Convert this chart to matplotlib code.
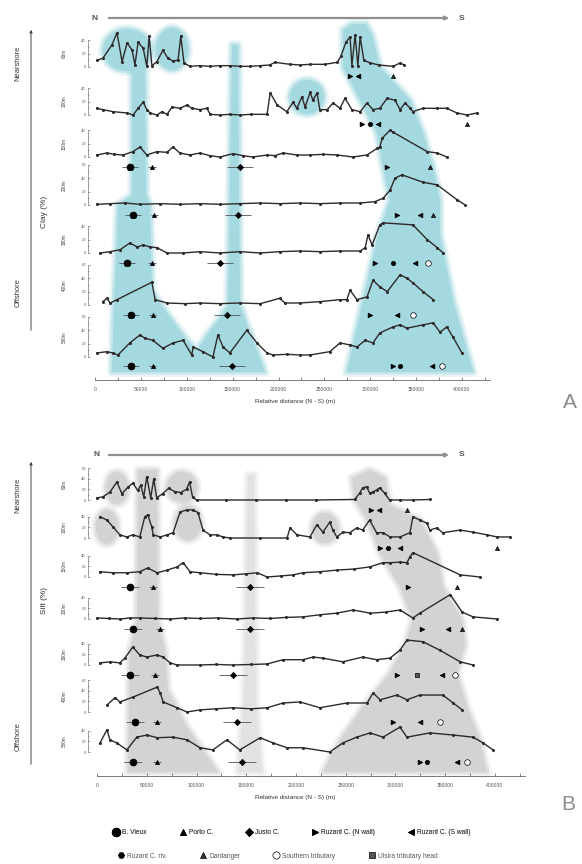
import matplotlib
matplotlib.use('Agg')
import matplotlib.pyplot as plt
from matplotlib.patches import Polygon, Ellipse
from matplotlib.lines import Line2D

plt.rcParams['font.family'] = ['Liberation Sans', 'DejaVu Sans']

# ---------------- data ----------------
DEPTHS = ['60m', '100m', '150m', '200m', '300m', '400m', '500m']
XTICKS = [0, 50000, 100000, 150000, 200000, 250000, 300000, 350000, 400000]
XTICKLABELS = ['0', '50000', '100000', '150000', '200000', '250000', '300000', '350000', '400000']
XLABEL = 'Relative distance (N - S) (m)'

# Panel A : clay (%)  (distance m, value %)
A60 = [(2000, 10), (8500, 13), (18500, 33), (24000, 51), (29500, 8), (35000, 36), (40500, 25), (43500, 3),
       (47000, 37), (52500, 28), (56500, 1), (59000, 46), (62000, 2), (67500, 8), (74000, 25), (79500, 13),
       (85000, 9), (90500, 10), (93500, 46), (97000, 6), (103500, 1), (114000, 2), (125500, 1), (136000, 2),
       (147000, 2), (158000, 1), (169000, 1), (180000, 2), (190500, 3), (196000, 7), (212500, 4), (223000, 3),
       (234500, 4), (250500, 4), (264000, 7), (268000, 16), (273500, 37), (278000, 45), (280000, 2),
       (283500, 48), (286500, 2), (289000, 45), (293000, 10), (300000, 6), (309500, 3), (325000, 1),
       (332500, 6), (337000, 3)]
A100 = [(2000, 10), (8500, 8), (19500, 5), (35000, 3), (41500, 0), (47000, 10), (52500, 19), (56500, 8),
        (60000, 3), (67500, 0), (73000, 5), (78500, 1), (84000, 12), (92500, 10), (100500, 15), (105500, 10),
        (114500, 8), (122000, 10), (125500, 1), (136000, 0), (147000, 1), (158000, 0), (170000, 1),
        (187500, 1), (191000, 33), (198500, 15), (209000, 5), (216000, 19), (220000, 10), (225500, 27),
        (229000, 12), (234500, 34), (237500, 22), (242000, 33), (245000, 8), (253000, 8), (259500, 18),
        (267000, 10), (272500, 25), (280000, 8), (289000, 5), (296500, 18), (303000, 8), (310500, 10),
        (318500, 25), (327000, 22), (332500, 8), (338000, 18), (343500, 10), (346500, 5), (357500, 10),
        (373000, 10), (383500, 10), (394500, 3), (405500, 0), (416500, 3)]
A150 = [(2000, 3), (13000, 6), (21000, 4), (30500, 3), (41500, 8), (49000, 15), (56500, 3), (67500, 8),
        (78500, 7), (85000, 15), (92500, 6), (103500, 3), (114500, 6), (125000, 2), (136000, 0), (150500, 5),
        (161000, 2), (172000, 0), (187500, 3), (196000, 2), (205000, 6), (220000, 3), (234500, 3),
        (249000, 4), (264000, 3), (281000, 0), (296500, 3), (307500, 13), (310500, 15), (313000, 28),
        (321500, 40), (325000, 37), (362000, 8), (373000, 6), (383500, 0)]
A200 = [(2000, 1), (16500, 2), (32500, 3), (49000, 1), (71000, 2), (92500, 1), (114500, 2), (136000, 1),
        (158000, 2), (180000, 3), (201500, 2), (223500, 3), (245000, 2), (267000, 3), (289000, 3),
        (305000, 5), (314000, 10), (321500, 22), (327000, 40), (334500, 45), (357500, 34), (373000, 30),
        (394500, 8), (403500, 0)]
A300 = [(5500, 0), (16500, 2), (27500, 5), (38000, 15), (46000, 9), (52500, 12), (60000, 9), (67500, 8),
        (78500, 0), (96000, 0), (114500, 2), (136000, 0), (158000, 2), (180000, 0), (201500, 2), (223500, 3),
        (245000, 2), (267000, 3), (289000, 3), (294500, 8), (297500, 27), (302000, 12), (310500, 42),
        (314000, 45), (346500, 42), (362000, 20), (373000, 8), (379500, 0)]
A400 = [(8500, 5), (13000, 10), (16500, 3), (24000, 8), (62000, 34), (65500, 8), (78500, 3), (98000, 2),
        (114500, 3), (136000, 2), (158000, 3), (180000, 2), (201500, 10), (207000, 3), (223500, 3),
        (245000, 5), (267000, 8), (274500, 8), (278000, 22), (285500, 8), (296500, 12), (303000, 37),
        (310500, 27), (318500, 20), (332500, 45), (340000, 40), (346500, 33), (357500, 20), (368500, 8)]
A500 = [(2000, 6), (13000, 8), (19500, 6), (25000, 3), (38000, 21), (49000, 33), (54500, 28), (63000, 25),
        (74000, 13), (85000, 21), (96000, 25), (105500, 3), (107000, 15), (117500, 8), (128500, 0),
        (134000, 33), (139500, 15), (147000, 6), (165500, 40), (176500, 21), (187500, 6), (194000, 3),
        (209000, 4), (223500, 3), (234500, 3), (256000, 8), (267000, 21), (278000, 18), (285500, 15),
        (294500, 25), (303000, 21), (310500, 36), (325000, 45), (332500, 48), (340000, 43), (357500, 48),
        (368500, 51), (376000, 37), (383500, 45), (390000, 30), (400000, 6)]

# Panel B : silt (%)
B60 = [(0, 4), (6000, 6), (13000, 15), (20000, 34), (25000, 12), (31000, 24), (36000, 32), (41000, 18),
       (44000, 28), (47000, 6), (50000, 44), (54000, 4), (57000, 40), (60000, 4), (66000, 12), (72000, 22),
       (78000, 16), (84000, 14), (90000, 20), (93000, 34), (96000, 6), (100000, 0), (130000, 0),
       (160000, 0), (190000, 0), (220000, 0), (259000, 1), (264000, 13), (267000, 23), (271000, 25),
       (274000, 13), (277000, 15), (281000, 19), (284000, 23), (289000, 13), (294000, 0), (304500, 0),
       (317500, 0), (334500, 1)]
B100 = [(3000, 40), (10000, 34), (16000, 21), (23000, 6), (30000, 2), (36000, 6), (43000, 2), (48000, 40),
        (51000, 44), (55000, 21), (56500, 6), (63500, 2), (70500, 6), (76500, 10), (83500, 49), (90500, 53),
        (96500, 53), (101500, 48), (106500, 15), (113500, 6), (120500, 6), (126500, 2), (133500, 0),
        (164000, 0), (191000, 0), (194000, 19), (201000, 6), (214000, 2), (221000, 25), (227000, 11),
        (234000, 30), (237000, 15), (241000, 2), (247000, 11), (254000, 10), (261000, 19), (267000, 15),
        (274000, 34), (281000, 10), (287500, 10), (294500, 2), (304500, 2), (314500, 10), (317500, 40),
        (324500, 34), (331500, 28), (334500, 15), (341500, 19), (347500, 10), (365000, 15), (378000, 11),
        (392000, 6), (402000, 2), (415000, 2)]
B150 = [(3000, 10), (16000, 8), (30000, 8), (43000, 10), (51000, 17), (60500, 8), (70500, 13), (80500, 19),
        (86500, 27), (93500, 10), (103500, 8), (120000, 5), (136500, 4), (150000, 6), (161000, 8),
        (171000, 0), (185000, 2), (197000, 4), (207000, 8), (224000, 10), (241000, 13), (258000, 15),
        (274000, 19), (287500, 27), (294500, 27), (304500, 28), (311500, 27), (314500, 38), (317500, 46),
        (365000, 4), (385000, 0)]
B200 = [(0, 2), (12000, 1), (23000, 0), (33000, 2), (43000, 2), (58000, 1), (73500, 0), (88000, 2),
        (103500, 1), (122000, 2), (140500, 0), (157000, 2), (174000, 1), (190000, 3), (207000, 4),
        (224000, 8), (241000, 11), (257500, 17), (274500, 11), (290000, 13), (304500, 17), (317500, 2),
        (324500, 11), (355000, 46), (367000, 13), (378000, 4), (402000, 0)]
B300 = [(3000, 4), (13000, 6), (23000, 4), (28000, 13), (36000, 34), (43000, 19), (50000, 15), (60500, 19),
        (66500, 15), (73500, 4), (80500, 0), (103500, 0), (120000, 1), (136500, 0), (155000, 1),
        (171000, 2), (187000, 10), (207000, 10), (217000, 15), (227000, 13), (247000, 6), (267000, 15),
        (281000, 10), (294500, 13), (304500, 28), (311500, 47), (327500, 44), (344500, 28), (365000, 6),
        (378000, 0)]
B400 = [(10000, 13), (18000, 27), (23000, 19), (36000, 28), (60500, 47), (63500, 36), (66500, 19),
        (80500, 8), (90500, 0), (103500, 4), (120000, 6), (136500, 8), (155000, 6), (171000, 8),
        (187000, 17), (204000, 19), (224000, 8), (251000, 17), (271500, 17), (277500, 36), (284500, 23),
        (301500, 32), (311500, 23), (324500, 32), (347500, 32), (358000, 17), (367000, 4)]
B500 = [(3000, 17), (10000, 42), (13000, 23), (20000, 17), (30000, 4), (40000, 28), (50000, 32),
        (60500, 27), (76500, 28), (90500, 23), (103500, 8), (116500, 4), (130500, 23), (143500, 4),
        (164000, 27), (177000, 17), (191000, 8), (207000, 8), (234000, 0), (247000, 17), (261000, 28),
        (274500, 36), (287500, 28), (304500, 47), (311500, 28), (334500, 36), (358000, 32), (378000, 28),
        (388000, 17), (398000, 4)]

# canyon positions per depth row (m), None = absent
CANYONS = ['B. Vieux', 'Porto C.', 'Justo C.', 'Ruzant C. (N wall)', 'Ruzant C. (S wall)',
           'Ruzant C. riv.', 'Dardanger', 'Southern tributary', 'Ulsira tributary head']
A_VIEUX = [None, None, 38000, 41500, 35000, 39000, 39000]
A_PORTO = [None, None, 62000, 64500, 62000, 63000, 63000]
A_JUSTO = [None, None, 158000, 156000, 136000, 144000, 149000]
A_RUZ_N = [278000, 291000, 318000, 329000, 305000, 300000, 325000]
A_RUZ_S = [287000, 308500, None, 354000, 349000, 329000, 367000]
A_RUZ_RIV = [None, 300000, None, None, 325000, None, 332000]
A_DARD = [325000, 405500, 365000, 368500, None, None, None]
A_STRIB = [None, None, None, None, 363000, 346500, 378000]
A_ULSIRA = [None, None, None, None, None, None, None]

B_VIEUX = [None, None, 33000, 36000, 33000, 38000, 36000]
B_PORTO = [None, None, 56500, 63500, 58500, 60500, 60500]
B_JUSTO = [None, None, 154000, 154000, 136500, 140500, 145500]
B_RUZ_N = [275500, 284500, 312500, 326500, 301500, 297500, 324500]
B_RUZ_S = [283500, 304500, None, 353000, 346500, 324500, 362000]
B_RUZ_RIV = [None, 292500, None, None, None, None, 331500]
B_DARD = [311500, 402000, 362000, 367000, None, None, None]
B_STRIB = [None, None, None, None, 360000, 344500, 372000]
B_ULSIRA = [None, None, None, None, 321500, None, None]

# ---------------- styles / layout ----------------
W, H = 582, 864
LINE = '#2f2a2a'
MSTYLE = {  # marker, size, facecolor, xerr
    'B. Vieux': ('o', 5.0, 'black', 9000),
    'Porto C.': ('^', 3.0, 'black', 4000),
    'Justo C.': ('D', 3.2, 'black', 14000),
    'Ruzant C. (N wall)': ('>', 3.4, 'black', 0),
    'Ruzant C. (S wall)': ('<', 3.4, 'black', 0),
    'Ruzant C. riv.': ('H', 3.4, 'black', 0),
    'Dardanger': ('^', 3.0, '#333333', 0),
    'Southern tributary': ('o', 4.0, 'white', 0),
    'Ulsira tributary head': ('s', 3.2, '#555555', 0),
}

PANELS = [
    dict(name='A', x0=95, x400=462, bases=[67, 115, 157, 205, 253, 305, 357], scale=0.67,
         ymin=-20, ymax=62, top=10, axis_y=380, arrow_y=18,
         yticks=[[0, 20, 40], [0, 20, 40], [0, 20, 40], [0, 20, 40, 60], [0, 20, 40], [0, 20, 40, 60],
                 [0, 20, 40, 60]],
         rows=[A60, A100, A150, A200, A300, A400, A500],
         marks=[A_VIEUX, A_PORTO, A_JUSTO, A_RUZ_N, A_RUZ_S, A_RUZ_RIV, A_DARD, A_STRIB, A_ULSIRA],
         ylabel='Clay (%)', ylabel_y=212, near_y=63, off_y=293, vline=(27, 333), letter=(570, 403)),
    dict(name='B', x0=97, x400=495, bases=[500, 538, 577, 619, 665, 712, 752], scale=0.53,
         ymin=-28, ymax=75, top=445, axis_y=776, arrow_y=455,
         yticks=[[0, 20, 40, 60], [0, 20, 40], [0, 20, 40], [0, 20, 40], [0, 20, 40], [0, 20, 40, 60],
                 [0, 20, 40]],
         rows=[B60, B100, B150, B200, B300, B400, B500],
         marks=[B_VIEUX, B_PORTO, B_JUSTO, B_RUZ_N, B_RUZ_S, B_RUZ_RIV, B_DARD, B_STRIB, B_ULSIRA],
         ylabel='Silt (%)', ylabel_y=600, near_y=495, off_y=737, vline=(459, 767), letter=(568, 805)),
]

SHADE_A_COLOR = '#a3d9df'
SHADE_A_ELL = [(127, 50, 48, 42), (172, 49, 32, 42), (307, 97, 34, 34)]
SHADE_A_POLY = [
    [(132, 62), (132, 195), (118, 205), (116, 260), (114, 300), (112, 372), (265, 372), (255, 345),
     (248, 327), (240, 305), (238, 45), (232, 45), (228, 305), (220, 318), (212, 328), (205, 338),
     (197, 350), (187, 340), (172, 320), (158, 300), (152, 290), (150, 205), (146, 195), (145, 62)],
    [(343, 30), (352, 24), (366, 24), (372, 35), (380, 67), (410, 100), (423, 133), (433, 167), (440, 200),
     (440, 235), (453, 300), (473, 372), (347, 372), (363, 300), (378, 235), (390, 200), (383, 167),
     (377, 133), (360, 100), (343, 67)],
]
SHADE_B_COLOR = '#d3d3d3'
SHADE_B_ELL = [(117, 488, 22, 32), (182, 487, 30, 30), (107, 527, 22, 34), (188, 523, 26, 34),
               (325, 528, 26, 30)]
SHADE_B_POLY = [
    [(138, 470), (157, 470), (158, 620), (165, 650), (168, 690), (187, 727), (218, 772), (128, 772),
     (129, 700), (130, 650), (137, 620)],
    [(352, 478), (355, 500), (367, 520), (380, 553), (400, 587), (413, 620), (405, 645), (390, 673),
     (363, 707), (340, 740), (323, 772), (487, 772), (480, 740), (467, 707), (457, 673), (465, 645),
     (462, 620), (443, 587), (437, 553), (420, 520), (390, 505), (385, 478), (370, 470)],
]
SHADE_B_THIN = [(248, 475), (254, 475), (256, 700), (262, 772), (238, 772), (244, 700)]


def fr(x0, y0, x1, y1):
    return [x0 / W, 1 - y1 / H, (x1 - x0) / W, (y1 - y0) / H]


fig = plt.figure(figsize=(W / 100, H / 100), dpi=100)
deco = fig.add_axes([0, 0, 1, 1], zorder=0)
deco.set_xlim(0, W)
deco.set_ylim(H, 0)
deco.axis('off')


def shade(polys, ells, color, alpha=1.0):
    for p in polys:
        for lw, a in ((7, 0.25), (3.5, 0.5)):
            deco.add_patch(Polygon(p, closed=True, facecolor='none', edgecolor=color, lw=lw,
                                   alpha=a * alpha, joinstyle='round'))
        deco.add_patch(Polygon(p, closed=True, facecolor=color, edgecolor='none', alpha=alpha))
    for (cx, cy, w, h) in ells:
        for lw, a in ((7, 0.25), (3.5, 0.5)):
            deco.add_patch(Ellipse((cx, cy), w, h, facecolor='none', edgecolor=color, lw=lw, alpha=a * alpha))
        deco.add_patch(Ellipse((cx, cy), w, h, facecolor=color, edgecolor='none', alpha=alpha))


shade(SHADE_A_POLY, SHADE_A_ELL, SHADE_A_COLOR)
shade([SHADE_B_THIN], [], '#e2e2e2')
shade(SHADE_B_POLY, SHADE_B_ELL, SHADE_B_COLOR)

for cfg in PANELS:
    x0 = cfg['x0']
    mpp = 400000 / (cfg['x400'] - x0)
    # x axis
    bx = fig.add_axes(fr(60, cfg['top'], 530, cfg['axis_y']), zorder=1)
    bx.patch.set_alpha(0)
    bx.set_xlim((60 - x0) * mpp, (530 - x0) * mpp)
    bx.set_ylim(0, 1)
    for s in ('left', 'right', 'top'):
        bx.spines[s].set_visible(False)
    bx.spines['bottom'].set_bounds(0, 430000)
    bx.spines['bottom'].set_color('#666666')
    bx.spines['bottom'].set_linewidth(0.6)
    bx.set_xticks(XTICKS)
    bx.set_xticklabels(XTICKLABELS)
    bx.set_xticks([25000 + 50000 * k for k in range(9)], minor=True)
    bx.tick_params(axis='x', which='both', direction='in', length=2.5, width=0.5, labelsize=3.6,
                   pad=5, colors='#555555')
    bx.set_yticks([])
    bx.set_xlabel(XLABEL, fontsize=4.6, labelpad=5, color='#333333')

    # N - S arrow
    ay = cfg['arrow_y']
    deco.annotate('', xy=(452, ay), xytext=(106, ay),
                  arrowprops=dict(arrowstyle='-|>', color='#8f8f8f', lw=1.6, mutation_scale=5))
    deco.text(x0, ay, 'N', fontsize=6, fontweight='bold', color='#555555', ha='center', va='center')
    deco.text(462, ay, 'S', fontsize=6, fontweight='bold', color='#555555', ha='center', va='center')

    # nearshore/offshore
    v0, v1 = cfg['vline']
    deco.annotate('', xy=(31, v0), xytext=(31, v1),
                  arrowprops=dict(arrowstyle='-|>', color='#444444', lw=0.7, mutation_scale=4))
    deco.text(18, cfg['near_y'], 'Nearshore', rotation=90, fontsize=5.4, color='#333333',
              ha='center', va='center')
    deco.text(18, cfg['off_y'], 'Offshore', rotation=90, fontsize=5.4, color='#333333',
              ha='center', va='center')
    deco.text(44, cfg['ylabel_y'], cfg['ylabel'], rotation=90, fontsize=6, color='#333333',
              ha='center', va='center')
    deco.text(cfg['letter'][0], cfg['letter'][1], cfg['name'], fontsize=15, color='#8a8a8a',
              ha='center', va='center')

    s = cfg['scale']
    ymin, ymax = cfg['ymin'], cfg['ymax']
    mark_y = -9.5 / s
    for i, depth in enumerate(DEPTHS):
        base = cfg['bases'][i]
        ax = fig.add_axes(fr(88, base - ymax * s, 530, base - ymin * s), zorder=2)
        ax.patch.set_alpha(0)
        ax.set_xlim((88 - x0) * mpp, (530 - x0) * mpp)
        ax.set_ylim(ymin, ymax)
        xs, ys = zip(*cfg['rows'][i])
        ax.plot(xs, ys, color=LINE, lw=1.0, marker='o', ms=1.2, solid_joinstyle='round')
        for name, pos in zip(CANYONS, cfg['marks']):
            if pos[i] is None:
                continue
            mk, ms, fc, xe = MSTYLE[name]
            ax.errorbar([pos[i]], [mark_y], xerr=[xe] if xe else None, fmt=mk, ms=ms, mfc=fc,
                        mec='black', mew=0.5, ecolor='#555555', elinewidth=0.6, capsize=0)
        ticks = cfg['yticks'][i]
        ax.set_yticks(ticks)
        ax.set_yticklabels([str(t) for t in ticks])
        ax.set_yticks(list(range(0, ticks[-1] + 1, 10)), minor=True)
        ax.tick_params(axis='y', which='both', direction='in', length=1.6, width=0.4, labelsize=3,
                       pad=1.5, colors='#555555')
        ax.tick_params(axis='y', which='minor', length=1.0)
        ax.set_xticks([])
        for sp in ('top', 'right', 'bottom'):
            ax.spines[sp].set_visible(False)
        ax.spines['left'].set_bounds(0, ticks[-1])
        ax.spines['left'].set_linewidth(0.4)
        ax.spines['left'].set_color('#555555')
        ax.set_ylabel(depth, fontsize=3.4, color='#444444')
        ax.yaxis.set_label_coords(-21 / (530 - 88), (ticks[-1] / 2 - ymin) / (ymax - ymin))


# legend
def handle(name):
    mk, ms, fc, xe = MSTYLE[name]
    return Line2D([], [], ls='none', marker=mk, ms=ms + 1.2, mfc=fc, mec='black', mew=0.5, label=name)


leg1 = fig.legend(handles=[handle(n) for n in CANYONS[:5]], loc='center',
                  bbox_to_anchor=(292 / W, 1 - 833 / H), ncol=5, frameon=False, fontsize=4.8,
                  handlelength=0.8, handletextpad=0.5, columnspacing=5.0, labelcolor='#555555')
fig.add_artist(leg1)
fig.legend(handles=[handle(n) for n in CANYONS[5:]], loc='center',
           bbox_to_anchor=(278 / W, 1 - 856 / H), ncol=4, frameon=False, fontsize=4.8,
           handlelength=0.8, handletextpad=0.5, columnspacing=5.0, labelcolor='#555555')

fig.savefig('out.png', dpi=100)
